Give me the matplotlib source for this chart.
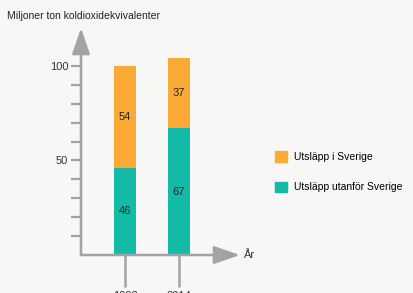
import matplotlib.pyplot as plt
from matplotlib.patches import Patch

plt.rcParams['font.family'] = ['Liberation Sans', 'DejaVu Sans']

years = ['1993', '2014']
utanfor = [46, 67]   # Utsläpp utanför Sverige
sverige = [54, 37]   # Utsläpp i Sverige
yticks = list(range(10, 101, 10))
ylabels = ['' if t not in (50, 100) else str(t) for t in yticks]

ORANGE = '#FBAA35'
GREEN = '#13BBA6'
GRAY = '#a3a3a3'
BG = '#f7f7f5'

fig = plt.figure(figsize=(4.14, 2.93), dpi=100)
fig.patch.set_facecolor(BG)
ax = fig.add_axes([81/414, 38/293, 159/414, 227/293])
ax.set_facecolor(BG)

xs = [0, 1]
w = 0.41
ax.bar(xs, utanfor, width=w, color=GREEN, zorder=2)
ax.bar(xs, sverige, width=w, bottom=utanfor, color=ORANGE, zorder=2)

for x, a, b in zip(xs, utanfor, sverige):
    ax.text(x, a / 2, str(a), ha='center', va='center', fontsize=8, color='#222222')
    ax.text(x, a + b / 2, str(b), ha='center', va='center', fontsize=8, color='#222222')

ax.set_xlim(-0.815, 2.13)
ax.set_ylim(0, 120)

for s in ax.spines.values():
    s.set_visible(False)

# axis arrows
xmin, xmax = ax.get_xlim()
ax.annotate('', xy=(xmax, 0), xytext=(xmin, 0),
            arrowprops=dict(arrowstyle='-|>,head_length=1.6,head_width=0.55',
                            color=GRAY, lw=1.8, shrinkA=0, shrinkB=0), annotation_clip=False)
ax.annotate('', xy=(xmin, 120), xytext=(xmin, 0),
            arrowprops=dict(arrowstyle='-|>,head_length=1.6,head_width=0.55',
                            color=GRAY, lw=1.8, shrinkA=0, shrinkB=0), annotation_clip=False)

ax.set_yticks(yticks)
ax.set_yticklabels(ylabels)
ax.tick_params(axis='y', length=7.2, width=1.6, color=GRAY, labelsize=8,
               labelcolor='#333333', pad=2, left=True)
ax.set_xticks(xs)
ax.set_xticklabels(years)
ax.tick_params(axis='x', length=23, width=1.8, color=GRAY, labelsize=8,
               labelcolor='#333333', pad=3)

fig.text(243/414, 1 - 255/293, 'År', fontsize=8, color='#333333', va='center', ha='left')
fig.text(7/414, 1 - 16/293, 'Miljoner ton koldioxidekvivalenter', fontsize=7.5,
         color='#222222', va='center', ha='left')

handles = [Patch(color=ORANGE, label='Utsläpp i Sverige'),
           Patch(color=GREEN, label='Utsläpp utanför Sverige')]
fig.legend(handles=handles, loc='upper left', bbox_to_anchor=(275/414, 1 - 151/293),
           frameon=False, fontsize=7.5, handlelength=1.2, handleheight=1.2,
           handletextpad=0.6, labelspacing=1.9, borderpad=0, borderaxespad=0)

fig.savefig('out.png', dpi=100, facecolor=BG)
